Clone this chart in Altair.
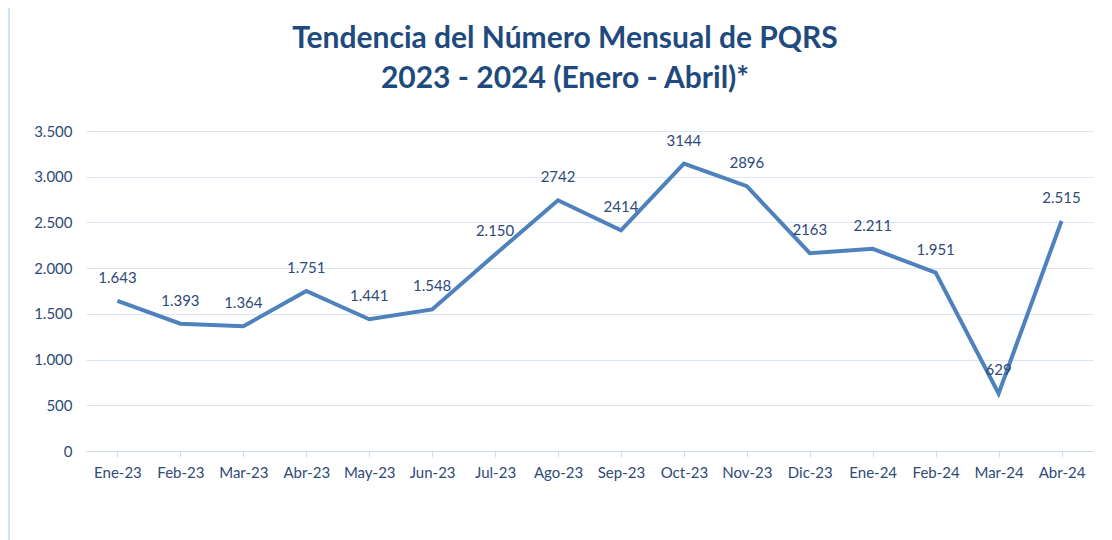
import altair as alt
import pandas as pd

months = ["Ene-23", "Feb-23", "Mar-23", "Abr-23", "May-23", "Jun-23", "Jul-23", "Ago-23",
          "Sep-23", "Oct-23", "Nov-23", "Dic-23", "Ene-24", "Feb-24", "Mar-24", "Abr-24"]
values = [1643, 1393, 1364, 1751, 1441, 1548, 2150, 2742, 2414, 3144, 2896, 2163, 2211, 1951, 629, 2515]
labels = ["1.643", "1.393", "1.364", "1.751", "1.441", "1.548", "2.150", "2742", "2414", "3144",
          "2896", "2163", "2.211", "1.951", "629", "2.515"]
title_lines = ["Tendencia del Número Mensual de PQRS", "2023 - 2024 (Enero - Abril)*"]

df = pd.DataFrame({"mes": months, "pqrs": values, "etiqueta": labels})
tdf = pd.DataFrame({"t": title_lines})

FONT = "Lato"
TXT = "#2E4A78"

x = alt.X("mes:N", sort=months, title=None,
          scale=alt.Scale(paddingInner=0, paddingOuter=0),
          axis=alt.Axis(bandPosition=0, labelAngle=0, labelFont=FONT, labelFontSize=15,
                        labelColor=TXT, labelPadding=8, tickColor="#D0DBEA", tickSize=6,
                        domainColor="#D0DBEA", grid=False))
y = alt.Y("pqrs:Q", title=None,
          scale=alt.Scale(domain=[0, 3500], nice=False),
          axis=alt.Axis(values=[0, 500, 1000, 1500, 2000, 2500, 3000, 3500],
                        labelExpr="replace(format(datum.value, ','), ',', '.')",
                        labelFont=FONT, labelFontSize=15, labelColor=TXT, labelPadding=14,
                        domain=False, ticks=False, gridColor="#DCE6F2", gridWidth=1))

line = alt.Chart(df).mark_line(color="#4F81BD", strokeWidth=4, strokeJoin="miter").encode(x=x, y=y)
text = alt.Chart(df).mark_text(dy=-23, font=FONT, fontSize=15, color=TXT).encode(
    x=alt.X("mes:N", sort=months), y="pqrs:Q", text="etiqueta:N")
border = alt.Chart(df).mark_rule(color="#D5E2F1", strokeWidth=2).encode(
    x=alt.value(-77), y=alt.value(-123), y2=alt.value(450))
t1 = alt.Chart(tdf.iloc[[0]]).mark_text(font=FONT, fontSize=30, fontWeight="bold",
                                        color="#1F4A7E", align="center", baseline="alphabetic").encode(
    x=alt.value(479), y=alt.value(-83), text="t:N")
t2 = alt.Chart(tdf.iloc[[1]]).mark_text(font=FONT, fontSize=30, fontWeight="bold",
                                        color="#1F4A7E", align="center", baseline="alphabetic").encode(
    x=alt.value(479), y=alt.value(-43), text="t:N")

chart = alt.layer(border, line, text, t1, t2).properties(
    width=1007, height=320,
    background="white",
    autosize=alt.AutoSizeParams(type="none"),
    padding={"left": 78, "top": 123, "right": 10, "bottom": 100},
).configure_view(stroke=None)

chart.save("out.html", embed_options={"renderer": "svg", "actions": False})
